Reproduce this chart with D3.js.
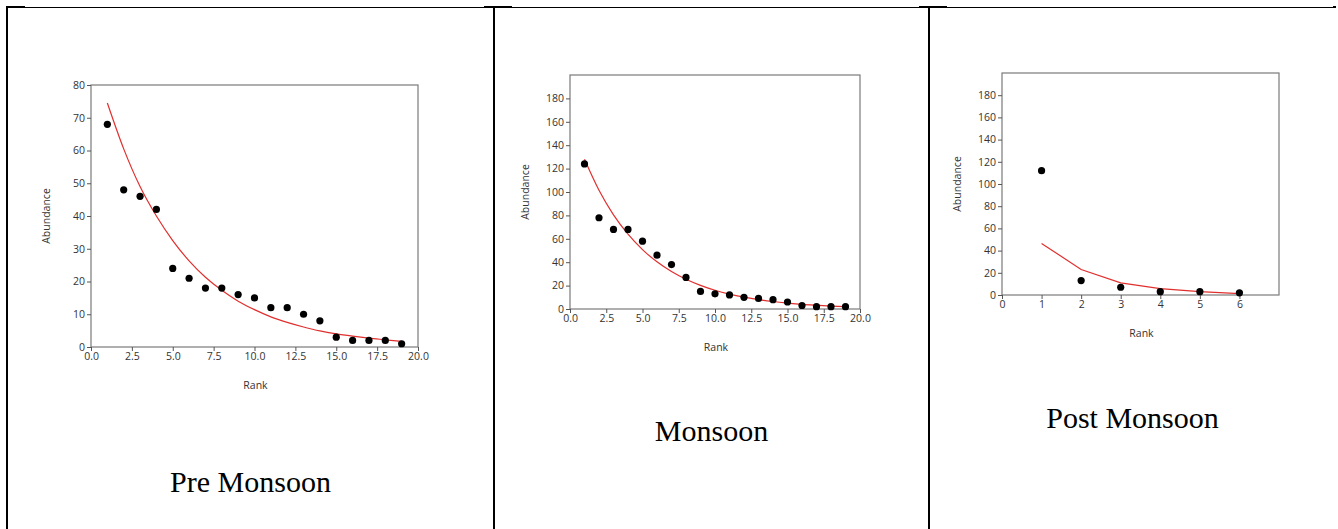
<!DOCTYPE html>
<html>
<head>
<meta charset="utf-8">
<script src="https://cdn.jsdelivr.net/npm/d3@7/dist/d3.min.js"></script>
<style>
  body { margin: 0; background: #fff; }
  svg { display: block; }
</style>
</head>
<body>
<svg id="chart" width="1338" height="529"></svg>
<script>
// ---- data ----
const titles = ["Pre Monsoon", "Monsoon", "Post Monsoon"]

const rankPre = [1, 2, 3, 4, 5, 6, 7, 8, 9, 10, 11, 12, 13, 14, 15, 16, 17, 18, 19]
const abundPre = [68, 48, 46, 42, 24, 21, 18, 18, 16, 15, 12, 12, 10, 8, 3, 2, 2, 2, 1]
const fitPre = [74.5, 60.5, 49, 40, 32.5, 26.3, 21.3, 17.3, 14, 11.4, 9.2, 7.5, 6.1, 4.9, 4, 3.3, 2.7, 2.2, 1.7]

const rankMon = [1, 2, 3, 4, 5, 6, 7, 8, 9, 10, 11, 12, 13, 14, 15, 16, 17, 18, 19]
const abundMon = [124, 78, 68, 68, 58, 46, 38, 27, 15, 13, 12, 10, 9, 8, 6, 3, 2, 2, 2]
const fitMon = [128, 101.5, 80.5, 64, 50.8, 40.3, 32, 25.4, 20.2, 16, 12.7, 10.1, 8, 6.4, 5.1, 4, 3.2, 2.5, 2]

const rankPost = [1, 2, 3, 4, 5, 6]
const abundPost = [112, 13, 7, 3, 3, 2]
const fitPost = [46.5, 23, 11, 5.7, 3, 1.2]

const xTicksRank = [0, 2.5, 5, 7.5, 10, 12.5, 15, 17.5, 20]
const xTicksPost = [0, 1, 2, 3, 4, 5, 6]
const yTicksPre = [0, 10, 20, 30, 40, 50, 60, 70, 80]
const yTicksBig = [0, 20, 40, 60, 80, 100, 120, 140, 160, 180]

// ---- layout ----
const svg = d3.select("#chart")
const cellEdges = [7, 494, 929, 1336]
const labelFont = "'Open Sans', 'Noto Sans', sans-serif"

const panels = [
  { title: titles[0], rank: rankPre, abund: abundPre, fit: fitPre, xDom: [0, 20], yDom: [0, 80],
    xTicks: xTicksRank, yTicks: yTicksPre, fmt: d3.format(".1f"), curve: d3.curveMonotoneX,
    box: { l: 91, t: 85, r: 418, b: 347 }, titleY: 492 },
  { title: titles[1], rank: rankMon, abund: abundMon, fit: fitMon, xDom: [0, 20], yDom: [0, 200],
    xTicks: xTicksRank, yTicks: yTicksBig, fmt: d3.format(".1f"), curve: d3.curveMonotoneX,
    box: { l: 570, t: 75, r: 860, b: 309 }, titleY: 441 },
  { title: titles[2], rank: rankPost, abund: abundPost, fit: fitPost, xDom: [0, 7], yDom: [0, 200],
    xTicks: xTicksPost, yTicks: yTicksBig, fmt: d3.format("d"), curve: d3.curveLinear,
    box: { l: 1002, t: 73, r: 1279, b: 295 }, titleY: 428 }
]

// table frame
const frame = svg.append("g").attr("class", "frame")
frame.append("line")
  .attr("x1", 6).attr("x2", 1336).attr("y1", 7.5).attr("y2", 7.5)
  .attr("stroke", "#000").attr("stroke-width", 1)
cellEdges.slice(0, 3).forEach((x, i) => {
  frame.append("line")
    .attr("x1", x).attr("x2", x).attr("y1", 6).attr("y2", 529)
    .attr("stroke", "#000").attr("stroke-width", 2)
  frame.append("line")
    .attr("x1", i == 0 ? 6 : x - 10).attr("x2", x + 18).attr("y1", 7).attr("y2", 7)
    .attr("stroke", "#000").attr("stroke-width", 2)
})
frame.append("line")
  .attr("x1", 1333).attr("x2", 1336).attr("y1", 7).attr("y2", 7)
  .attr("stroke", "#000").attr("stroke-width", 2)

panels.forEach((p, i) => {
  const b = p.box
  const x = d3.scaleLinear().domain(p.xDom).range([b.l, b.r])
  const y = d3.scaleLinear().domain(p.yDom).range([b.b, b.t])
  const g = svg.append("g").attr("class", "panel" + i)

  g.append("rect")
    .attr("x", b.l).attr("y", b.t)
    .attr("width", b.r - b.l).attr("height", b.b - b.t)
    .attr("fill", "none").attr("stroke", "#7a7a7a").attr("stroke-width", 1.2)

  const yAxis = g.append("g")
    .attr("transform", `translate(${b.l},0)`)
    .call(d3.axisLeft(y).tickValues(p.yTicks).tickSize(4).tickPadding(2))
  const xAxis = g.append("g")
    .attr("transform", `translate(0,${b.b})`)
    .call(d3.axisBottom(x).tickValues(p.xTicks).tickFormat(p.fmt).tickSize(4).tickPadding(2))

  ;[xAxis, yAxis].forEach(a => {
    a.select(".domain").remove()
    a.selectAll("line").attr("stroke", "#555")
    a.selectAll("text")
      .attr("fill", "#333")
      .style("font-family", labelFont)
      .style("font-size", "10.5px")
  })

  const line = d3.line()
    .x((d, k) => x(p.rank[k]))
    .y(d => y(d))
    .curve(p.curve)

  g.append("path")
    .datum(p.fit)
    .attr("d", line)
    .attr("fill", "none")
    .attr("stroke", "#e0302e")
    .attr("stroke-width", 1.2)

  g.selectAll("circle")
    .data(p.abund)
    .join("circle")
    .attr("cx", (d, k) => x(p.rank[k]))
    .attr("cy", d => y(d))
    .attr("r", 3.6)
    .attr("fill", "#000")

  g.append("text")
    .attr("x", (b.l + b.r) / 2 + 1)
    .attr("y", b.b + 42)
    .attr("text-anchor", "middle")
    .attr("fill", "#333")
    .style("font-family", labelFont)
    .style("font-size", "10.5px")
    .text("Rank")

  g.append("text")
    .attr("transform", `translate(${b.l - 45},${(b.t + b.b) / 2}) rotate(-90)`)
    .attr("text-anchor", "middle")
    .attr("dy", "0.35em")
    .attr("fill", "#333")
    .style("font-family", labelFont)
    .style("font-size", "10.5px")
    .text("Abundance")

  g.append("text")
    .attr("x", (cellEdges[i] + cellEdges[i + 1]) / 2)
    .attr("y", p.titleY)
    .attr("text-anchor", "middle")
    .attr("fill", "#000")
    .style("font-family", "'Liberation Serif', 'Times New Roman', serif")
    .style("font-size", "30px")
    .text(p.title)
})
</script>
</body>
</html>
